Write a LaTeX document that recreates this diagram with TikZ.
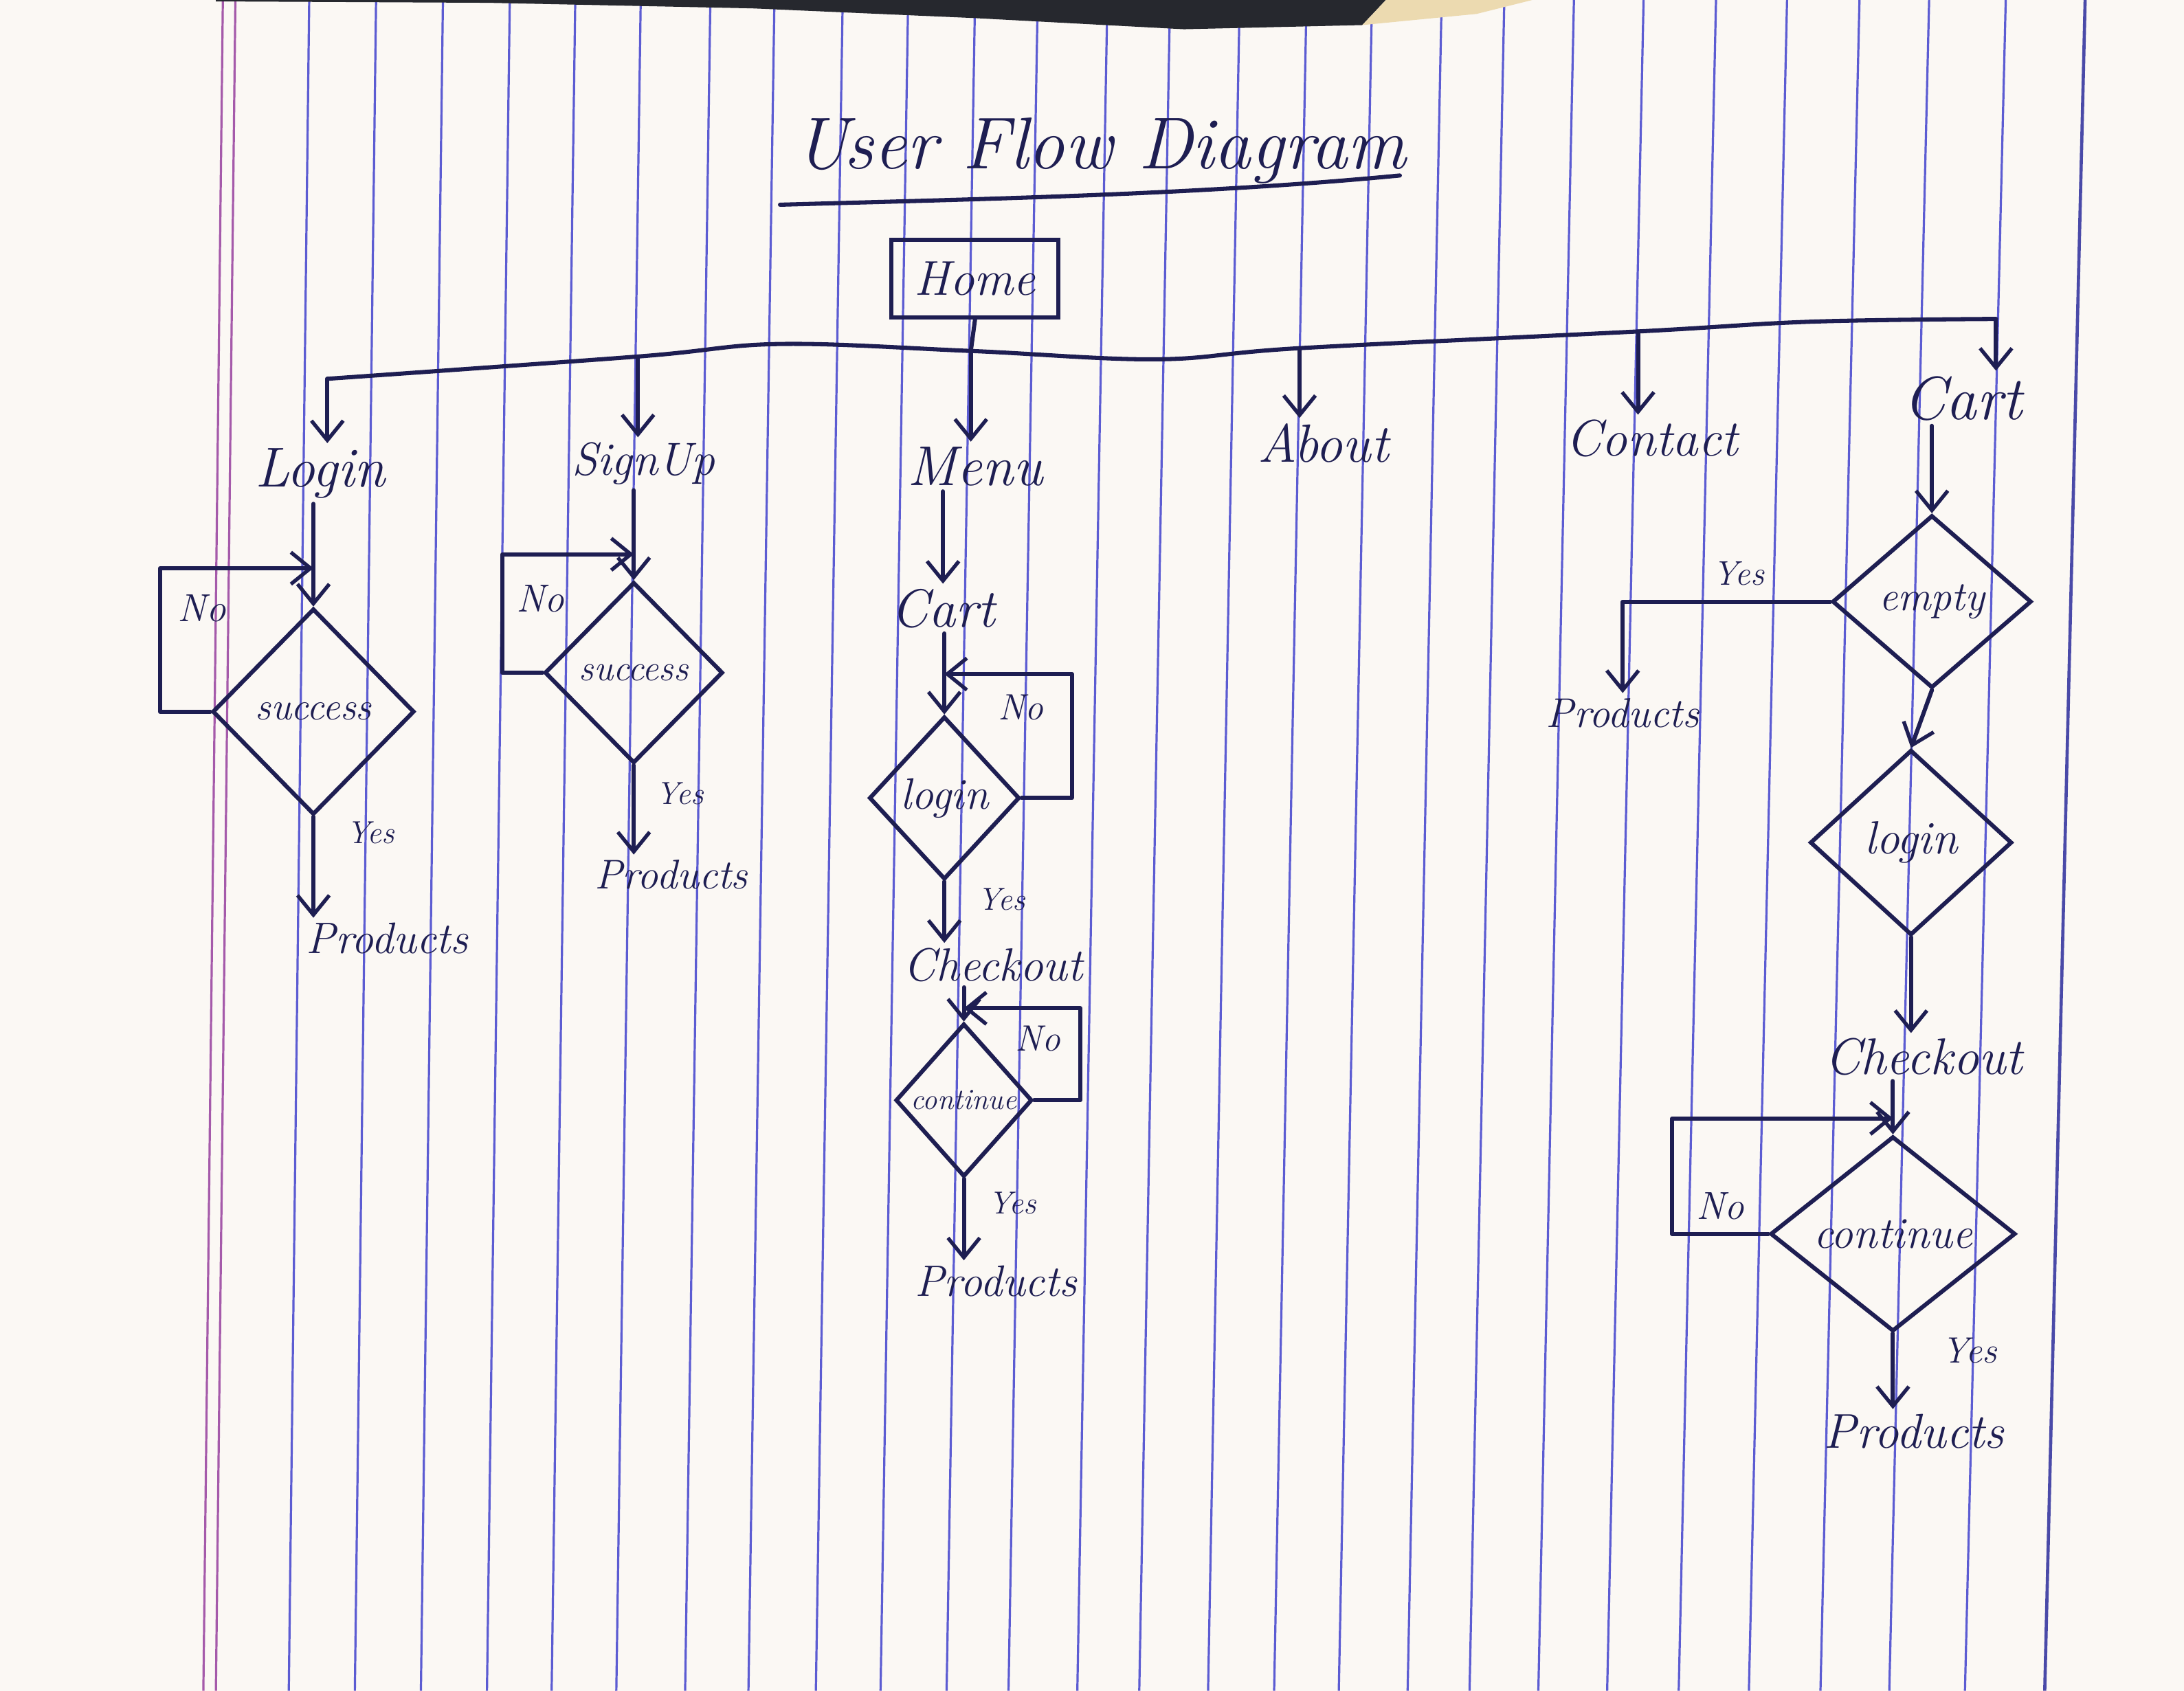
\documentclass[tikz,border=0pt]{standalone}
\usetikzlibrary{shapes.geometric,arrows.meta}
\definecolor{ink}{RGB}{30,30,82}
\definecolor{paper}{RGB}{251,248,244}
\definecolor{ruleblue}{RGB}{92,92,210}
\definecolor{marginpink}{RGB}{165,90,170}
\definecolor{darkobj}{RGB}{38,40,46}
\definecolor{tanpatch}{RGB}{236,218,176}
\tikzset{
  conn/.style={draw=ink, line width=1.7pt, line cap=round, line join=round},
  arr/.style={conn, -{Straight Barb[length=8pt,width=13pt,line width=1.5pt]}},
  lbl/.style={text=ink, inner sep=2pt},
  fs/.style={font=\itshape\fontsize{#1}{#1}\selectfont},
  dec/.style={diamond, draw=ink, line width=1.7pt, inner sep=0pt, text=ink},
  rulel/.style={draw=ruleblue, line width=0.9pt},
}
\begin{document}
\begin{tikzpicture}[x=0.02cm,y=-0.02cm]
\useasboundingbox (0,0) rectangle (1568,1214);
% paper and ruling
\fill[paper] (0,0) rectangle (1568,1214);
\foreach \x in {222,270,318,366,413,460,510,556,605,652,700,745,795,840,890,938,985,1035,1080,1130,1180,1232,1283,1335,1385,1440}
  \draw[rulel] (\x,0) -- ({\x-12-0.012*\x},1214);
\draw[draw=marginpink, line width=0.9pt] (160,0) -- (146,1214);
\draw[draw=marginpink, line width=0.9pt] (169,0) -- (155,1214);
\draw[draw=ruleblue!80!black, line width=1.3pt] (1497,0) -- (1468,1214);
\fill[darkobj] (155,0) -- (995,0) -- (978,18) -- (850,21) -- (700,13) -- (540,6) -- (350,2) -- (155,1) -- cycle;
\fill[tanpatch] (995,0) -- (1100,0) -- (1060,10) -- (978,18) -- cycle;

% title
\node[lbl, fs=30] (title) at (790,108) {User Flow Diagram};
\draw[conn] (560,147) .. controls (700,143) and (860,140) .. (1005,126);

% home and bus
\node[lbl, draw=ink, line width=1.7pt, minimum width=2.4cm, minimum height=1.12cm, fs=20] (home) at (700,200) {Home};
\coordinate (j1) at (235,272);
\coordinate (j2) at (458,256);
\coordinate (j3) at (697,252);
\coordinate (j4) at (933,250);
\coordinate (j5) at (1176,238);
\coordinate (j6) at (1433,229);
\draw[conn] (home.south) -- (j3);
\draw[conn] plot[smooth, tension=0.6] coordinates {(j1) (j2) (560,247) (j3) (830,258) (j4) (j5) (1300,231) (j6)};

% top-level pages
\node[lbl, fs=23] (login) at (230,340) {Login};
\node[lbl, fs=19] (signup) at (462,333) {SignUp};
\node[lbl, fs=23] (menu) at (700,335) {Menu};
\node[lbl, fs=22] (about) at (950,318) {About};
\node[lbl, fs=21] (contact) at (1186,315) {Contact};
\node[lbl, fs=25] (cartR) at (1409,286) {Cart};
\draw[arr] (j1) -- (j1 |- login.north);
\draw[arr] (j2) -- (j2 |- signup.north);
\draw[arr] (j3) -- (j3 |- menu.north);
\draw[arr] (j4) -- (j4 |- about.north);
\draw[arr] (j5) -- (j5 |- contact.north);
\draw[arr] (j6) -- (j6 |- cartR.north);

% column 1: Login
\node[dec, minimum width=2.9cm, minimum height=2.96cm, fs=16] (d1) at (225,511) {\makebox[0pt]{success}};
\coordinate (in1) at (225,408);
\draw[arr] (login.south -| d1.north) -- (d1.north);
\draw[arr] (d1.west) -- ++(-36,0) |- (in1);
\node[lbl, fs=16] (no1) at (145,437) {No};
\node[lbl, fs=18] (prod1) at (278,674) {Products};
\draw[arr] (d1.south) -- (d1.south |- prod1.north);
\node[lbl, fs=13] (yes1) at (266,598) {Yes};

% column 2: SignUp
\node[dec, minimum width=2.56cm, minimum height=2.6cm, fs=15] (d2) at (455,483) {\makebox[0pt]{success}};
\coordinate (in2) at (455,398);
\draw[arr] (signup.south -| d2.north) -- (d2.north);
\draw[arr] (d2.west) -- ++(-29,0) |- (in2);
\node[lbl, fs=16] (no2) at (388,430) {No};
\node[lbl, fs=17] (prod2) at (482,628) {Products};
\draw[arr] (d2.south) -- (d2.south |- prod2.north);
\node[lbl, fs=13] (yes2) at (488,570) {Yes};

% column 3: Menu
\node[lbl, fs=22] (cart3) at (677,437) {Cart};
\draw[arr] (menu.south -| cart3.north) -- (cart3.north);
\node[dec, minimum width=2.16cm, minimum height=2.34cm, fs=18] (d3) at (678,573) {\makebox[0pt]{login}};
\coordinate (in3) at (678,484);
\draw[arr] (cart3.south -| d3.north) -- (d3.north);
\draw[arr] (d3.east) -- ++(36,0) |- (in3);
\node[lbl, fs=15] (no3) at (733,508) {No};
\node[lbl, fs=19] (check3) at (713,693) {Checkout};
\draw[arr] (d3.south) -- (d3.south |- check3.north);
\node[lbl, fs=13] (yes3) at (719,646) {Yes};
\node[dec, minimum width=1.96cm, minimum height=2.2cm, fs=12] (d4) at (692,790) {\makebox[0pt]{continue}};
\coordinate (in4) at (692,724);
\draw[arr] (check3.south -| d4.north) -- (d4.north);
\draw[arr] (d4.east) -- ++(33,0) |- (in4);
\node[lbl, fs=15] (no4) at (745,746) {No};
\node[lbl, fs=18] (prod3) at (715,920) {Products};
\draw[arr] (d4.south) -- (d4.south |- prod3.north);
\node[lbl, fs=13] (yes4) at (727,864) {Yes};

% right column: Cart
\node[dec, minimum width=2.86cm, minimum height=2.48cm, fs=17] (d5) at (1387,432) {\makebox[0pt]{empty}};
\draw[arr] (cartR.south -| d5.north) -- (d5.north);
\node[lbl, fs=17] (prodC) at (1165,512) {Products};
\draw[arr] (d5.west) -| (prodC.north);
\node[lbl, fs=14] (yesC) at (1248,412) {Yes};
\node[dec, minimum width=2.9cm, minimum height=2.66cm, fs=19] (d6) at (1372,605) {\makebox[0pt]{login}};
\draw[arr] (d5.south) -- (d6.north);
\node[lbl, fs=21] (checkR) at (1381,759) {Checkout};
\draw[arr] (d6.south) -- (d6.south |- checkR.north);
\node[dec, minimum width=3.52cm, minimum height=2.8cm, fs=18] (d7) at (1359,886) {\makebox[0pt]{continue}};
\coordinate (in7) at (1359,803);
\draw[arr] (checkR.south -| d7.north) -- (d7.north);
\draw[arr] (d7.west) -- ++(-69,0) |- (in7);
\node[lbl, fs=16] (no7) at (1235,866) {No};
\node[lbl, fs=20] (prodR) at (1374,1028) {Products};
\draw[arr] (d7.south) -- (d7.south |- prodR.north);
\node[lbl, fs=15] (yes7) at (1414,970) {Yes};
\end{tikzpicture}
\end{document}
